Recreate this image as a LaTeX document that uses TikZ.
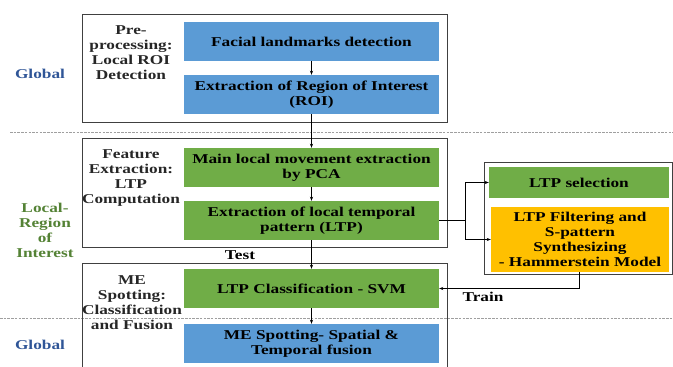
\documentclass[tikz,border=0pt]{standalone}
\usepackage{fontspec}
\setmainfont{Liberation Serif}[FakeStretch=1.28]
\usetikzlibrary{arrows.meta}
\definecolor{boxblue}{HTML}{5B9BD5}
\definecolor{boxgreen}{HTML}{70AD47}
\definecolor{boxorange}{HTML}{FFC000}
\definecolor{globalblue}{HTML}{2F5597}
\definecolor{localgreen}{HTML}{548235}
\definecolor{framegray}{HTML}{404040}
\tikzset{
  txt/.style={font=\fontsize{13.5}{15}\selectfont\bfseries, align=center, inner sep=0pt},
  stage/.style={txt, minimum width=255pt, minimum height=39pt, text=black},
  bluebox/.style={stage, fill=boxblue},
  greenbox/.style={stage, fill=boxgreen},
  frame/.style={draw=framegray, line width=0.9pt},
  sep/.style={draw=gray!75, dash pattern=on 2.5pt off 1.2pt, line width=0.8pt},
  flow/.style={draw=black, line width=0.7pt, -{Stealth[length=4pt,width=3pt]}},
  sidelabel/.style={txt, text=black!85},
}
\begin{document}
\begin{tikzpicture}[x=1pt,y=-1pt]
\useasboundingbox (0,0) rectangle (673,367);

% section separators
\draw[sep] (10,132) -- (673,132);
\draw[sep] (0,318) -- (673,318);

% outer frames of the three processing stages
\draw[frame] (82,14) rectangle (447,122);
\draw[frame] (82,138) rectangle (447,247);
\draw[frame] (82,367) -- (82,263) -- (447,263) -- (447,367);
\draw[frame] (484,162) rectangle (672,274);

% scope labels
\node[txt, text=globalblue] (g1) at (40,74) {Global};
\node[txt, text=localgreen] (lroi) at (45,230) {Local-\\Region\\of\\Interest};
\node[txt, text=globalblue] (g2) at (40,345) {Global};

% stage labels
\node[sidelabel] (pre) at (131,53) {Pre-\\processing:\\Local ROI\\Detection};
\node[sidelabel] (feat) at (131,178) {Feature\\Extraction:\\LTP\\Computation};
\node[sidelabel] (mes) at (132,303) {ME\\Spotting:\\Classification\\and Fusion};

% processing boxes
\node[bluebox] (fld) at (311.5,41.5) {Facial landmarks detection};
\node[bluebox] (roi) at (311.5,94.5) {Extraction of Region of Interest\\(ROI)};
\node[greenbox] (pca) at (311.5,167.5) {Main local movement extraction\\by PCA};
\node[greenbox] (ltp) at (311.5,220.5) {Extraction of local temporal\\pattern (LTP)};
\node[greenbox] (svm) at (311.5,288.5) {LTP Classification - SVM};
\node[bluebox] (fus) at (311.5,343.5) {ME Spotting- Spatial \&\\Temporal fusion};

\node[txt, fill=boxgreen, minimum width=180pt, minimum height=31pt] (sel) at (579,182.5) {LTP selection};
\node[txt, fill=boxorange, minimum width=178pt, minimum height=65pt] (filt) at (580,239.5)
  {LTP Filtering and\\S-pattern\\Synthesizing\\- Hammerstein Model};

% connectors
\draw[flow] (fld) -- (roi);
\draw[flow] (roi) -- (pca);
\draw[flow] (pca) -- (ltp);
\draw[flow] (ltp) -- (svm);
\draw[flow] (svm) -- (fus);
\coordinate (split) at (465,220.5);
\draw[line width=0.7pt] (ltp.east) -- (split);
\draw[flow] (split) |- (sel.west);
\draw[flow] (split) |- (filt.west);
\draw[flow] (filt.south -| 579,0) |- (svm.east);

\node[txt] (test) at (240,255) {Test};
\node[txt] (train) at (483,297) {Train};
\end{tikzpicture}
\end{document}
